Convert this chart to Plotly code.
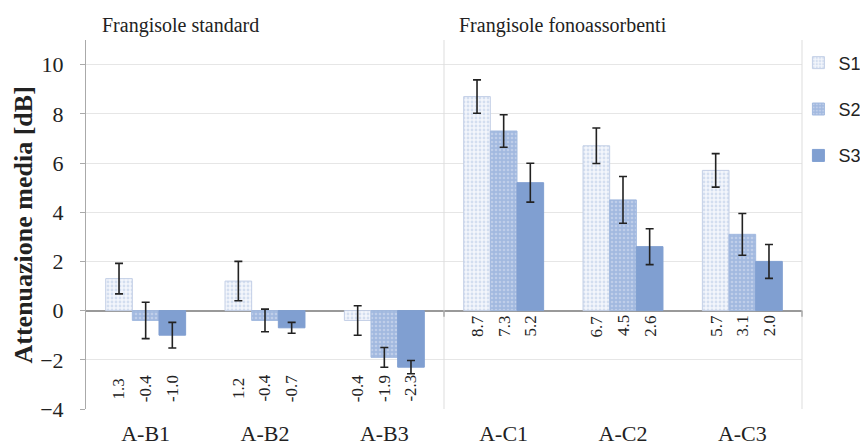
import plotly.graph_objects as go

categories = ["A-B1", "A-B2", "A-B3", "A-C1", "A-C2", "A-C3"]
series_names = ["S1", "S2", "S3"]
s1_values = [1.3, 1.2, -0.4, 8.7, 6.7, 5.7]
s2_values = [-0.4, -0.4, -1.9, 7.3, 4.5, 3.1]
s3_values = [-1.0, -0.7, -2.3, 5.2, 2.6, 2.0]
s1_errors = [0.62, 0.8, 0.6, 0.68, 0.72, 0.68]
s2_errors = [0.74, 0.46, 0.4, 0.66, 0.95, 0.85]
s3_errors = [0.52, 0.22, 0.27, 0.79, 0.73, 0.69]
group_titles = ["Frangisole standard", "Frangisole fonoassorbenti"]
y_title = "Attenuazione media [dB]"
y_ticks = [-4, -2, 0, 2, 4, 6, 8, 10]

values = [s1_values, s2_values, s3_values]
errors = [s1_errors, s2_errors, s3_errors]

styles = [
    dict(color="#f3f6fb", line=dict(color="#c3cfe6", width=1),
         pattern=dict(shape=".", fgcolor="#b3c5e4", bgcolor="#f3f6fb", size=4, solidity=0.4, fillmode="overlay")),
    dict(color="#a2b9df", line=dict(color="#a2b9df", width=1),
         pattern=dict(shape=".", fgcolor="#dbe4f3", bgcolor="#a2b9df", size=4, solidity=0.35, fillmode="overlay")),
    dict(color="#809fd1", line=dict(color="#809fd1", width=1)),
]

serif = "Liberation Serif, Times New Roman, serif"

fig = go.Figure()
for i, name in enumerate(series_names):
    fig.add_trace(go.Bar(
        x=categories, y=values[i], name=name,
        marker=styles[i],
        error_y=dict(type="data", array=errors[i], visible=True,
                     color="#222222", thickness=1.6, width=4),
        legendgroup=name,
    ))

# rotated value labels
offsets = [-26.7, 0, 26.7]
annotations = []
for i in range(3):
    for j, c in enumerate(categories):
        yv = -3.17 if j < 3 else -0.63
        annotations.append(dict(
            x=c, y=yv, xref="x", yref="y", text=f"{values[i][j]:.1f}",
            showarrow=False, textangle=-90, xshift=offsets[i],
            font=dict(family=serif, size=17, color="#222222"),
            xanchor="center", yanchor="middle",
        ))

annotations.append(dict(x=0.0196, y=1.04, xref="paper", yref="paper", text=group_titles[0],
                        showarrow=False, xanchor="left", yanchor="middle",
                        font=dict(family=serif, size=20, color="#222222")))
annotations.append(dict(x=0.518, y=1.04, xref="paper", yref="paper", text=group_titles[1],
                        showarrow=False, xanchor="left", yanchor="middle",
                        font=dict(family=serif, size=20, color="#222222")))
annotations.append(dict(x=-0.0866, y=0.5, xref="paper", yref="paper", text="<b>" + y_title + "</b>",
                        showarrow=False, textangle=-90, xanchor="center", yanchor="middle",
                        font=dict(family=serif, size=26, color="#222222")))

shapes = [
    dict(type="line", xref="x", yref="y", x0=2.5, x1=2.5, y0=-4, y1=11,
         line=dict(color="#dddddd", width=1)),
    dict(type="line", xref="paper", yref="y", x0=1, x1=1, y0=-4, y1=11,
         line=dict(color="#dddddd", width=1)),
    dict(type="line", xref="x", yref="y", x0=2.5, x1=2.5, y0=0, y1=-0.25,
         line=dict(color="#999999", width=1.2)),
    dict(type="line", xref="paper", yref="y", x0=1, x1=1, y0=0, y1=-0.25,
         line=dict(color="#999999", width=1.2)),
]

fig.update_layout(
    width=860, height=446,
    margin=dict(l=86, r=58, t=40, b=37, autoexpand=False),
    paper_bgcolor="white", plot_bgcolor="white",
    barmode="group", bargap=0.33, bargroupgap=0,
    annotations=annotations, shapes=shapes,
    showlegend=True,
    legend=dict(x=0.995, y=0.988, xanchor="left", yanchor="top", xref="paper", yref="paper",
                font=dict(family="Liberation Sans, Arial, sans-serif", size=18, color="#222222"),
                traceorder="grouped", tracegroupgap=20, bgcolor="rgba(0,0,0,0)",
                itemwidth=30),
    font=dict(family=serif, color="#222222"),
)
fig.update_xaxes(
    range=[-0.5, 5.5], showgrid=False, showline=False, zeroline=False,
    ticks="", tickfont=dict(family=serif, size=22, color="#222222"),
    ticklabelstandoff=9, automargin=False,
)
fig.update_yaxes(
    range=[-4, 11], tickvals=y_ticks, showgrid=True, gridcolor="#e6e6e6", gridwidth=1,
    zeroline=True, zerolinecolor="#999999", zerolinewidth=1.5,
    showline=True, linecolor="#aaaaaa", linewidth=1,
    ticks="outside", ticklen=5, tickcolor="#aaaaaa",
    tickfont=dict(family=serif, size=22, color="#222222"),
    ticklabelstandoff=12, automargin=False,
)

fig.write_html("out.html", config={"displayModeBar": False},
               post_script="document.body.style.margin='0';document.body.style.overflow='hidden';")
